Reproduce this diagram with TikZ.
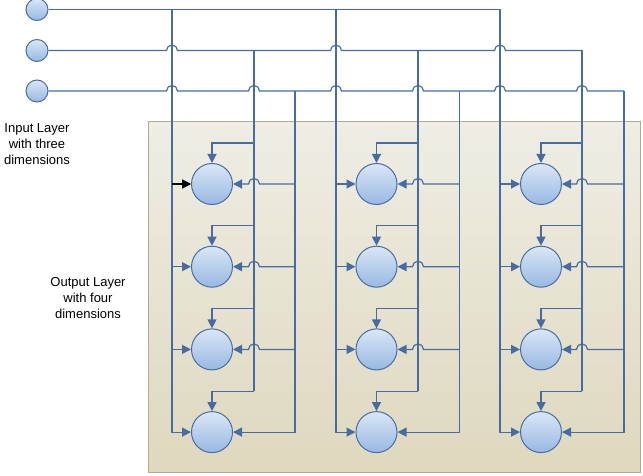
\documentclass[tikz,border=0pt]{standalone}
\usepackage{fontspec}
\setmainfont{Liberation Sans}
\usetikzlibrary{arrows.meta}

\definecolor{wirecol}{RGB}{72,108,162}
\definecolor{unitline}{RGB}{70,110,165}
\definecolor{unittop}{RGB}{218,230,246}
\definecolor{unitbot}{RGB}{152,184,226}
\definecolor{layertop}{RGB}{239,237,228}
\definecolor{layerbot}{RGB}{222,216,190}
\definecolor{layerline}{RGB}{178,172,144}

\begin{document}
\begin{tikzpicture}[
  x=1pt, y=-1pt,
  wire/.style={draw=wirecol, line width=1.2pt},
  feed/.style={wire, -{Triangle[length=9pt,width=9pt]}},
  unit/.style={circle, draw=unitline, line width=1pt, top color=unittop,
    bottom color=unitbot, inner sep=0pt, minimum size=41pt},
  inunit/.style={unit, minimum size=22pt},
  lbl/.style={align=center, font=\fontsize{13}{16}\selectfont}
]
  \useasboundingbox (0,0) rectangle (643,476);

  % output layer box
  \path[draw=layerline, line width=1pt, top color=layertop, bottom color=layerbot]
    (148,122) rectangle (640,472);

  % input units
  \foreach \i/\y in {1/9.5, 2/50.5, 3/91}
    \node[inunit] (in\i) at (37,\y) {};

  % output units
  \foreach \c in {0,1,2}
    \foreach \r in {1,...,4}
      \node[unit] (out\c\r) at ({212+164.5*\c},{184+82.7*(\r-1)}) {};

  % bus tops on the input lines
  \foreach \c in {0,1,2} {
    \coordinate (a\c) at ({172+164*\c},9.5);
    \coordinate (b\c) at ({254+164*\c},50.5);
    \coordinate (d\c) at ({295+164.5*\c},91);
  }

  % input lines
  \draw[wire] (in1.east) -- (a2);
  \draw[wire] (in2.east)
    foreach \x in {172,336,500} {-- ({\x-5.5},50.5) arc (180:360:5.5)} -- (b2);
  \draw[wire] (in3.east)
    foreach \x in {172,254,336,418,500,582} {-- ({\x-5.5},91) arc (180:360:5.5)} -- (d2);

  % wiring inside each column
  \foreach \c in {0,1,2} {
    \pgfmathsetmacro{\xm}{254+164*\c}
    % left bus
    \draw[feed] (a\c) |- (out\c4.west);
    \foreach \r in {1,2,3}
      \draw[feed] (a\c |- out\c\r) -- (out\c\r.west);
    % middle bus
    \foreach \r in {1,...,4} {
      \coordinate (m\c\r) at ({\xm},{184+82.7*(\r-1)-41});
      \draw[feed] (m\c\r) -| (out\c\r.north);
    }
    \draw[wire] (b\c) -- (m\c4);
    % right bus
    \draw[feed] (d\c) |- (out\c4.east);
    \foreach \r in {1,2,3}
      \draw[feed] (d\c |- out\c\r) -- ({\xm+5.5},{184+82.7*(\r-1)})
        arc (0:-180:5.5) -- (out\c\r.east);
  }

  % highlighted input
  \draw[black, line width=1.2pt, -{Triangle[length=9pt,width=9pt]}]
    (a0 |- out01) -- (out01.west);

  % labels
  \node[lbl] (inlbl) at (37,144) {Input Layer\\with three\\dimensions};
  \node[lbl] (outlbl) at (88,298) {Output Layer\\with four\\dimensions};
\end{tikzpicture}
\end{document}
